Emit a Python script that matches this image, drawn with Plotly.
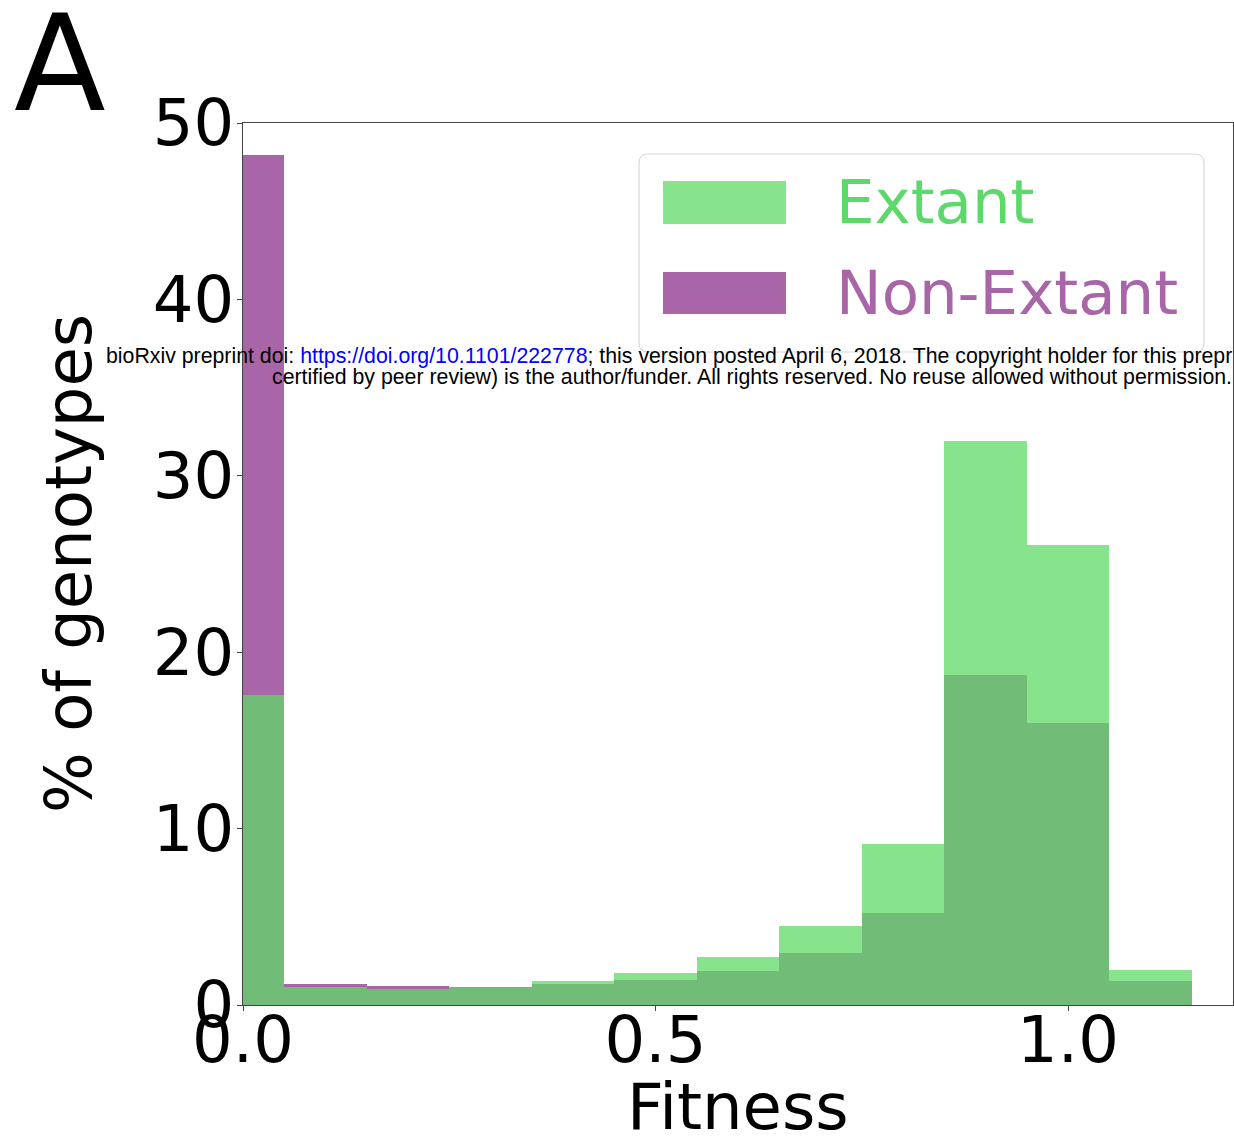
import plotly.graph_objects as go

# ---------------- data ----------------
bin_centers = [0.0, 0.1, 0.2, 0.3, 0.4, 0.5, 0.6, 0.7, 0.8, 0.9, 1.0, 1.1]
non_extant_pct = [48.2, 1.19, 1.06, 1.03, 1.21, 1.40, 1.95, 2.95, 5.2, 18.7, 16.0, 1.37]
extant_pct = [17.6, 1.02, 0.91, 1.03, 1.34, 1.80, 2.70, 4.50, 9.1, 32.0, 26.1, 2.0]
bin_width = 0.1
x_tick_vals = [0.0, 0.5, 1.0]
x_tick_text = ["0.0", "0.5", "1.0"]
y_tick_vals = [0, 10, 20, 30, 40, 50]
series_names = ["Extant", "Non-Extant"]

# ---------------- style ----------------
W, H = 1234, 1144
ML, MR, MT, MB = 243, 1, 123, 139
PW, PH = W - ML - MR, H - MT - MB
GREEN = "rgb(95,219,103)"
GREEN_LIGHT = "rgb(135,228,141)"
PURPLE = "rgb(168,102,168)"
FONT = "DejaVu Sans"
FS = 64


def px(xp):
    return (xp - ML) / PW


def py(yp):
    return (H - MB - yp) / PH


fig = go.Figure()
fig.add_trace(go.Bar(x=bin_centers, y=non_extant_pct, width=bin_width,
                     marker=dict(color=PURPLE, line=dict(width=0)),
                     name=series_names[1], showlegend=False))
fig.add_trace(go.Bar(x=bin_centers, y=extant_pct, width=bin_width,
                     marker=dict(color=GREEN, line=dict(width=0)), opacity=0.75,
                     name=series_names[0], showlegend=False))

annotations = []
shapes = []

# legend box (rounded)
lx0, lx1, ly0, ly1, r = 639, 1204, 154, 352, 9
def P(a, b):
    return f"{px(a):.5f},{py(b):.5f}"
path = (f"M {P(lx0 + r, ly0)} L {P(lx1 - r, ly0)} Q {P(lx1, ly0)} {P(lx1, ly0 + r)} "
        f"L {P(lx1, ly1 - r)} Q {P(lx1, ly1)} {P(lx1 - r, ly1)} "
        f"L {P(lx0 + r, ly1)} Q {P(lx0, ly1)} {P(lx0, ly1 - r)} "
        f"L {P(lx0, ly0 + r)} Q {P(lx0, ly0)} {P(lx0 + r, ly0)} Z")
shapes.append(dict(type="path", xref="paper", yref="paper", path=path,
                   fillcolor="rgba(255,255,255,0.8)", line=dict(color="#d9d9d9", width=1.2),
                   layer="above"))
legend_items = [(series_names[0], GREEN_LIGHT, "rgb(92,217,106)", 181, 224),
                (series_names[1], PURPLE, PURPLE, 272, 314)]
for name, patch_col, text_col, y0, y1 in legend_items:
    shapes.append(dict(type="rect", xref="paper", yref="paper",
                       x0=px(663), x1=px(786), y0=py(y1), y1=py(y0),
                       fillcolor=patch_col, line=dict(width=0), layer="above"))
    annotations.append(dict(xref="paper", yref="paper", x=px(834), y=py((y0 + y1) / 2 - 1),
                            xanchor="left", yanchor="middle", showarrow=False,
                            text=name, font=dict(family=FONT, size=61, color=text_col)))

# axis titles
annotations.append(dict(xref="paper", yref="paper", x=px(738), y=py(1146),
                        xanchor="center", yanchor="bottom", showarrow=False,
                        text="Fitness", font=dict(family=FONT, size=FS, color="black")))
annotations.append(dict(xref="paper", yref="paper", x=px(30), y=py(564),
                        xanchor="left", yanchor="middle", showarrow=False, textangle=-90,
                        text="% of genotypes", font=dict(family=FONT, size=FS, color="black")))

# panel label
annotations.append(dict(xref="paper", yref="paper", x=px(12), y=py(64),
                        xanchor="left", yanchor="middle", showarrow=False,
                        text="A", font=dict(family=FONT, size=134, color="black")))

# bioRxiv header
hdr_font = dict(family="Liberation Sans", size=21.3, color="black")
annotations.append(dict(xref="paper", yref="paper", x=px(104), y=py(356),
                        xanchor="left", yanchor="middle", showarrow=False,
                        text="bioRxiv preprint doi: <span style='color:blue'>https://doi.org/10.1101/222778</span>; "
                             "this version posted April 6, 2018. The copyright holder for this prepr",
                        font=hdr_font))
annotations.append(dict(xref="paper", yref="paper", x=px(270), y=py(377),
                        xanchor="left", yanchor="middle", showarrow=False,
                        text="certified by peer review) is the author/funder. All rights reserved. No reuse allowed without permission.",
                        font=hdr_font))

fig.update_layout(
    width=W, height=H, margin=dict(l=ML, r=MR, t=MT, b=MB, autoexpand=False),
    paper_bgcolor="white", plot_bgcolor="white", barmode="overlay", bargap=0,
    annotations=annotations, shapes=shapes, showlegend=False,
)
fig.update_xaxes(range=[0, 1.2], tickvals=x_tick_vals, ticktext=x_tick_text,
                 showgrid=False, zeroline=False, showline=True, mirror=True,
                 linecolor="#444", linewidth=1.2, ticks="outside", ticklen=5, tickcolor="#444",
                 ticklabelstandoff=-26,
                 tickfont=dict(family=FONT, size=FS, color="black"))
fig.update_yaxes(range=[0, 50], tickvals=y_tick_vals,
                 showgrid=False, zeroline=False, showline=True, mirror=True,
                 linecolor="#444", linewidth=1.2, ticks="outside", ticklen=5, tickcolor="#444",
                 ticklabelstandoff=-10,
                 tickfont=dict(family=FONT, size=FS, color="black"))

fig.write_html("out.html")
